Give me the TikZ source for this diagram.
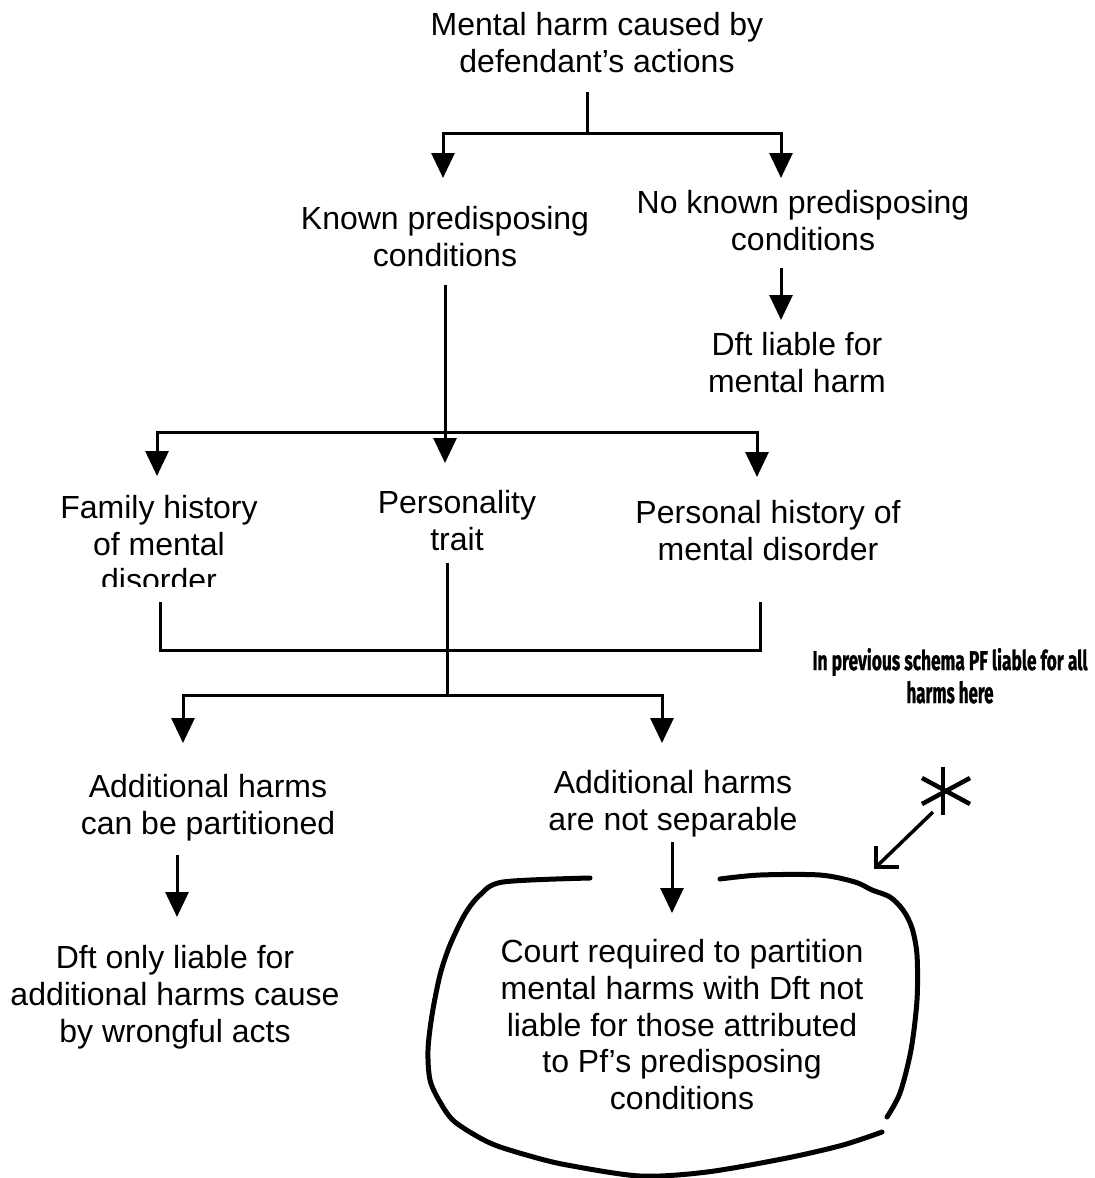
\documentclass[tikz,border=0pt]{standalone}
\usepackage{fontspec}
\setmainfont{Liberation Sans}
\newfontfamily\notefont{Fira Sans}[BoldFeatures={FakeBold=1.2}]
\usetikzlibrary{arrows.meta,calc}
\begin{document}
\begin{tikzpicture}[x=1pt,y=-1pt,
  txt/.style={font=\fontsize{32}{36.8}\selectfont, align=center, inner sep=0pt, anchor=north},
  conn/.style={line width=3pt},
  arr/.style={conn, -{Triangle[width=23pt,length=25pt]}},
  blob/.style={line width=5pt, line cap=round, line join=round},
  note/.style={inner sep=0pt, anchor=base, font=\notefont\bfseries},
]
\useasboundingbox (0,0) rectangle (1095,1178);

% ---- text nodes ----
\node[txt] (top) at (597,12) {Mental harm caused by\\defendant’s actions};
\node[txt] (known) at (445,206) {Known predisposing\\conditions};
\node[txt] (noknown) at (803,190) {No known predisposing\\conditions};
\node[txt] (dftliable) at (797,332) {Dft liable for\\mental harm};
\begin{scope}
  \clip (0,400) rectangle (320,586);
  \node[txt] (family) at (159,495) {Family history\\of mental\\disorder};
\end{scope}
\node[txt] (personality) at (457,490) {Personality\\trait};
\node[txt] (personal) at (768,500) {Personal history of\\mental disorder};
\node[txt] (partition) at (208,774) {Additional harms\\can be partitioned};
\node[txt] (dftonly) at (175,945) {Dft only liable for\\additional harms cause\\by wrongful acts};
\node[txt] (notsep) at (673,770) {Additional harms\\are not separable};
\node[txt] (court) at (682,939) {Court required to partition\\mental harms with Dft not\\liable for those attributed\\to Pf’s predisposing\\conditions};

% ---- connector points ----
\coordinate (t0) at (587,92);
\coordinate (tj) at (587,133);
\coordinate (tL) at (443,178);
\coordinate (tR) at (781,178);
\coordinate (k0) at (445,285);
\coordinate (kj) at (445,432);
\coordinate (kC) at (445,463);
\coordinate (kL) at (157,476);
\coordinate (kR) at (757,477);
\coordinate (n0) at (781,268);
\coordinate (n1) at (781,320);
\coordinate (bL) at (160,602);
\coordinate (bR) at (760,602);
\coordinate (bm) at (447,650);
\coordinate (bc0) at (447,563);
\coordinate (bj) at (447,695);
\coordinate (bLa) at (183,743);
\coordinate (bRa) at (662,743);
\coordinate (p0) at (177,855);
\coordinate (p1) at (177,917);
\coordinate (s0) at (672,842);
\coordinate (s1) at (672,913);

% ---- connectors ----
\draw[conn] (t0) -- (tj);
\draw[arr] (tj) -| (tL);
\draw[arr] (tj) -| (tR);
\draw[arr] (k0) -- (kC);
\draw[arr] (kj) -| (kL);
\draw[arr] (kj) -| (kR);
\draw[arr] (n0) -- (n1);
\draw[conn] (bL) |- (bm) -| (bR);
\draw[conn] (bc0) -- (bj);
\draw[arr] (bj) -| (bLa);
\draw[arr] (bj) -| (bRa);
\draw[arr] (p0) -- (p1);
\draw[arr] (s0) -- (s1);

% ---- hand-drawn outline ----
\draw[blob] plot[smooth, tension=0.5] coordinates {
  (590,878) (503,882) (480,895) (465,914) (450,945) (440,975) (432,1015)
  (428,1050) (430,1080) (440,1102) (455,1122) (490,1143) (530,1156)
  (567,1165) (640,1176) (707,1172) (787,1158) (843,1145) (882,1132)};
\draw[blob] plot[smooth, tension=0.5] coordinates {
  (887,1117) (900,1093) (911,1050) (917,1000) (917,955) (912,928)
  (903,910) (890,897) (872,890) (855,882) (820,875) (760,875) (720,879)};

% ---- annotation ----
\node[note] (noteA) at (950,670) {\resizebox{275pt}{22pt}{In previous schema PF liable for all}};
\node[note] (noteB) at (950,703) {\resizebox{87pt}{22pt}{harms here}};

\coordinate (ast) at (946,791);
\draw[line width=4.5pt] (943,767) -- (943,815);
\draw[line width=4.5pt] ($(ast)+(-24,-13)$) -- ($(ast)+(24,13)$);
\draw[line width=4.5pt] ($(ast)+(-24,13)$) -- ($(ast)+(24,-13)$);
\coordinate (a0) at (933,812);
\coordinate (a1) at (876,867);
\draw[line width=3.5pt] (a0) -- (a1);
\draw[line width=3.5pt] ($(a1)+(0,-21)$) -- (a1) -- ($(a1)+(23,0)$);
\end{tikzpicture}
\end{document}
